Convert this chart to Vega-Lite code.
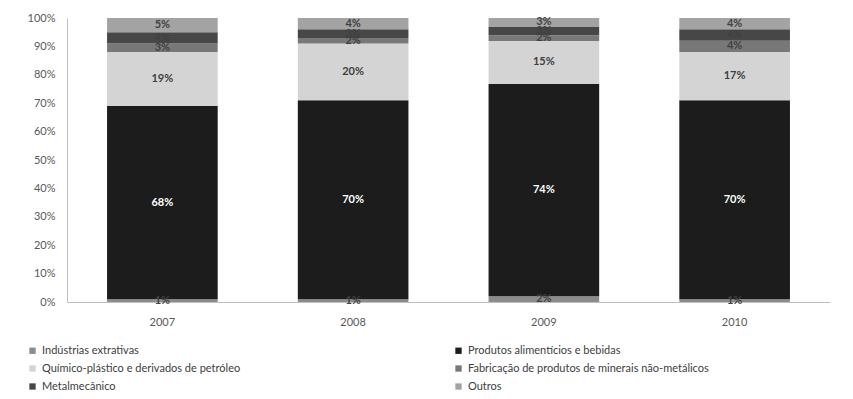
{
  "$schema": "https://vega.github.io/schema/vega-lite/v6.json",
  "width": 763,
  "height": 284,
  "autosize": "none",
  "padding": {"left": 67, "top": 18, "right": 23, "bottom": 97},
  "background": "white",
  "config": {
    "font": "Lato",
    "view": {"stroke": null},
    "axis": {"labelFont": "Lato", "labelFontSize": 11, "labelColor": "#595959", "domainColor": "#bfbfbf", "grid": false, "ticks": false},
    "axisY": {"values": [0, 0.1, 0.2, 0.3, 0.4, 0.5, 0.6, 0.7, 0.8, 0.9, 1], "format": ".0%", "labelOverlap": false, "labelPadding": 12, "title": null}
  },
  "data": {
    "values": [
      {"year": "2007", "series": "Indústrias extrativas", "idx": 0, "pct": 1},
      {"year": "2007", "series": "Produtos alimentícios e bebidas", "idx": 1, "pct": 68},
      {"year": "2007", "series": "Químico-plástico e derivados de petróleo", "idx": 2, "pct": 19},
      {"year": "2007", "series": "Fabricação de produtos de minerais não-metálicos", "idx": 3, "pct": 3},
      {"year": "2007", "series": "Metalmecânico", "idx": 4, "pct": 4},
      {"year": "2007", "series": "Outros", "idx": 5, "pct": 5},
      {"year": "2008", "series": "Indústrias extrativas", "idx": 0, "pct": 1},
      {"year": "2008", "series": "Produtos alimentícios e bebidas", "idx": 1, "pct": 70},
      {"year": "2008", "series": "Químico-plástico e derivados de petróleo", "idx": 2, "pct": 20},
      {"year": "2008", "series": "Fabricação de produtos de minerais não-metálicos", "idx": 3, "pct": 2},
      {"year": "2008", "series": "Metalmecânico", "idx": 4, "pct": 3},
      {"year": "2008", "series": "Outros", "idx": 5, "pct": 4},
      {"year": "2009", "series": "Indústrias extrativas", "idx": 0, "pct": 2},
      {"year": "2009", "series": "Produtos alimentícios e bebidas", "idx": 1, "pct": 74},
      {"year": "2009", "series": "Químico-plástico e derivados de petróleo", "idx": 2, "pct": 15},
      {"year": "2009", "series": "Fabricação de produtos de minerais não-metálicos", "idx": 3, "pct": 2},
      {"year": "2009", "series": "Metalmecânico", "idx": 4, "pct": 3},
      {"year": "2009", "series": "Outros", "idx": 5, "pct": 3},
      {"year": "2010", "series": "Indústrias extrativas", "idx": 0, "pct": 1},
      {"year": "2010", "series": "Produtos alimentícios e bebidas", "idx": 1, "pct": 70},
      {"year": "2010", "series": "Químico-plástico e derivados de petróleo", "idx": 2, "pct": 17},
      {"year": "2010", "series": "Fabricação de produtos de minerais não-metálicos", "idx": 3, "pct": 4},
      {"year": "2010", "series": "Metalmecânico", "idx": 4, "pct": 4},
      {"year": "2010", "series": "Outros", "idx": 5, "pct": 4}
    ]
  },
  "transform": [
    {"stack": "pct", "groupby": ["year"], "sort": [{"field": "idx", "order": "ascending"}], "as": ["y0", "y1"], "offset": "normalize"},
    {"calculate": "(datum.y0 + datum.y1) / 2", "as": "ymid"},
    {"calculate": "datum.pct + '%'", "as": "label"}
  ],
  "encoding": {
    "x": {"field": "year", "type": "nominal", "title": null, "scale": {"paddingInner": 0.42, "paddingOuter": 0.21},
      "axis": {"labelAngle": 0, "labelPadding": 14, "domainColor": "#bfbfbf"}}
  },
  "layer": [
    {
      "mark": {"type": "bar"},
      "encoding": {
        "y": {"field": "y0", "type": "quantitative", "title": null, "scale": {"domain": [0, 1], "nice": false}},
        "y2": {"field": "y1"},
        "color": {
          "field": "series", "type": "nominal",
          "scale": {
            "domain": ["Indústrias extrativas", "Químico-plástico e derivados de petróleo", "Metalmecânico", "Produtos alimentícios e bebidas", "Fabricação de produtos de minerais não-metálicos", "Outros"],
            "range": ["#8c8c8c", "#d4d4d4", "#474747", "#1c1c1c", "#787878", "#a3a3a3"]
          },
          "legend": {
            "title": null, "orient": "none", "legendX": -40, "legendY": 327, "columns": 2, "columnPadding": 212,
            "rowPadding": 6, "symbolType": "square", "symbolSize": 40, "labelFontSize": 11, "labelColor": "#404040",
            "labelFont": "Lato", "symbolStrokeWidth": 0, "labelLimit": 400
          }
        }
      }
    },
    {
      "mark": {"type": "text", "font": "Lato", "fontSize": 11, "fontWeight": "bold"},
      "encoding": {
        "y": {"field": "ymid", "type": "quantitative", "title": null},
        "text": {"field": "label"},
        "color": {"condition": {"test": "datum.idx == 1", "value": "white"}, "value": "#404040"}
      }
    }
  ]
}
